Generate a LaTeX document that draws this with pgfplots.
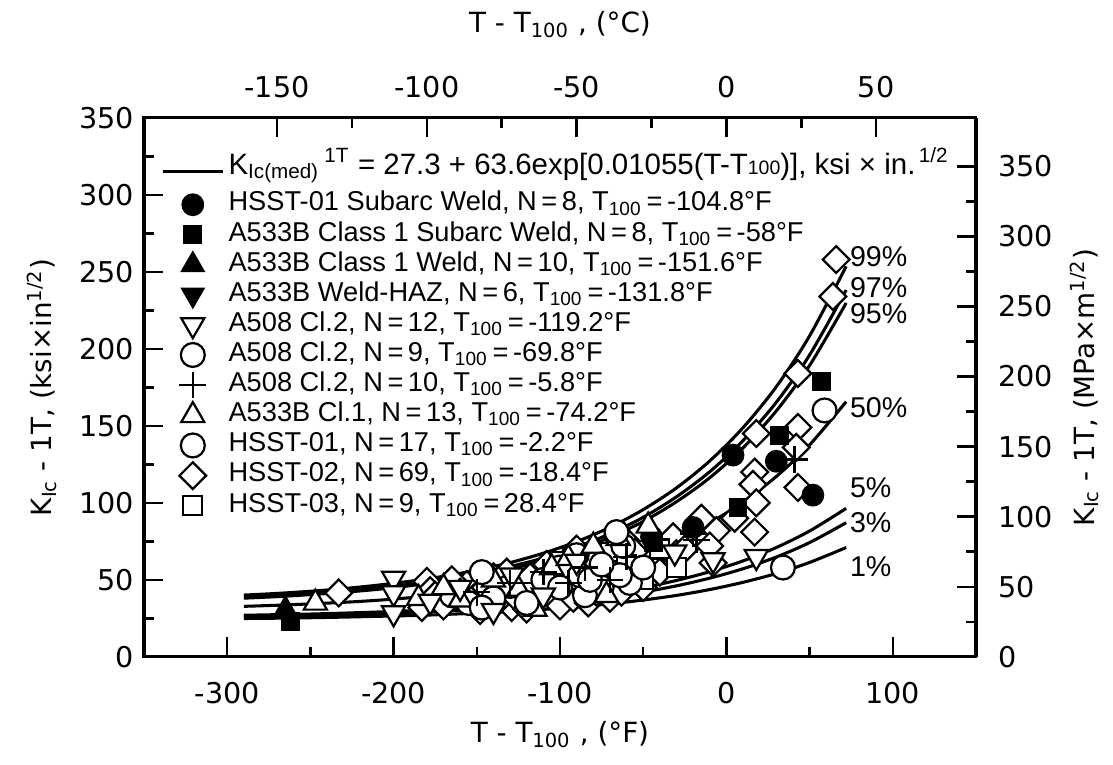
\documentclass[border=0pt]{standalone}
\usepackage{fontspec}
\setmainfont{Liberation Sans}
\newfontfamily\dvs{DejaVu Sans}
\usepackage{pgfplots}
\usepackage{pgfplotstable}
\pgfplotsset{compat=1.18}

\pgfplotstableread{
T p1 p3 p5 p50 p95 p97 p99
-290 24.9 26.2 27.0 32.8 38.1 38.8 40.1
-270 25.1 26.6 27.4 33.5 39.1 39.9 41.2
-250 25.4 27.0 27.8 34.4 40.4 41.2 42.6
-230 25.8 27.4 28.4 35.4 41.9 42.8 44.3
-210 26.3 28.0 29.1 36.7 43.8 44.8 46.5
-190 26.8 28.8 29.9 38.4 46.2 47.2 49.1
-170 27.5 29.7 31.0 40.4 49.1 50.2 52.3
-150 28.4 30.9 32.3 42.9 52.7 54.0 56.3
-130 29.5 32.3 33.9 45.9 57.1 58.6 61.2
-110 30.8 34.0 35.8 49.7 62.6 64.2 67.3
-90 32.4 36.1 38.3 54.4 69.3 71.3 74.8
-70 34.4 38.8 41.3 60.2 77.6 79.9 84.1
-50 36.9 42.1 45.0 67.3 87.9 90.6 95.6
-30 39.9 46.1 49.6 76.2 100.7 103.9 109.7
-10 43.7 51.1 55.3 87.0 116.3 120.2 127.2
10 48.4 57.2 62.3 100.5 135.7 140.4 148.8
30 54.1 64.8 71.0 117.1 159.7 165.3 175.4
50 61.3 74.2 81.7 137.6 189.2 196.0 208.4
72 71.0 87.1 96.4 165.7 229.8 238.2 253.6
}\curves

\begin{document}
\begin{tikzpicture}
\pgfplotsset{
  cur/.style={black, line width=1.1pt, smooth, no markers, forget plot},
  fcirc/.style={only marks, mark=*, mark size=3.8pt, mark options={draw=black, fill=black, line width=0.6pt}},
  fsq/.style={only marks, mark=square*, mark size=3.1pt, mark options={draw=black, fill=black, line width=0.6pt}},
  ftri/.style={only marks, mark=triangle*, mark size=4.6pt, mark options={draw=black, fill=black, line width=0.6pt}},
  fdtri/.style={only marks, mark=triangle*, mark size=4.6pt, mark options={rotate=180, draw=black, fill=black, line width=0.6pt}},
  odtri/.style={only marks, mark=triangle*, mark size=4.8pt, mark options={rotate=180, draw=black, fill=white, line width=0.8pt}},
  ocirc/.style={only marks, mark=*, mark size=4.3pt, mark options={draw=black, fill=white, line width=0.8pt}},
  pls/.style={only marks, mark=+, mark size=4.8pt, mark options={draw=black, line width=0.9pt}},
  otri/.style={only marks, mark=triangle*, mark size=4.8pt, mark options={draw=black, fill=white, line width=0.8pt}},
  odia/.style={only marks, mark=square*, mark size=3.4pt, mark options={rotate=45, draw=black, fill=white, line width=0.8pt}},
  osq/.style={only marks, mark=square*, mark size=3.4pt, mark options={draw=black, fill=white, line width=0.8pt}},
}
\begin{axis}[name=main, scale only axis, width=299.3pt, height=193.9pt,
  xmin=-350, xmax=150, ymin=0, ymax=350,
  xtick={-300,-200,...,100}, ytick={0,50,...,350},
  minor x tick num=1, minor y tick num=1,
  xtick pos=left, ytick pos=left,
  tick align=inside, major tick length=7pt, minor tick length=3.5pt,
  axis line style={line width=1.1pt},
  every tick/.append style={line width=0.9pt, black},
  ticklabel style={font=\dvs\fontsize{10.3}{12}\selectfont},
  /pgf/number format/assume math mode=true,
  xticklabel style={yshift=-5.5pt},
  xlabel={T - T\textsubscript{100} , (°F)},
  ylabel={K\textsubscript{Ic} - 1T, (ksi×in\textsuperscript{1/2})},
  every axis x label/.style={at={(axis description cs:0.5,0)}, anchor=center, yshift=-28pt, font=\dvs\fontsize{10}{12}\selectfont},
  every axis y label/.style={at={(axis description cs:0,0.5)}, anchor=center, xshift=-36.7pt, rotate=90, font=\dvs\fontsize{10}{12}\selectfont},
  legend image code/.code={\draw[mark repeat=2,mark phase=2,#1] plot coordinates {(0cm,0cm) (0.38cm,0cm) (0.76cm,0cm)};},
  legend cell align=left,
  legend style={at={(0,1)}, anchor=north west, xshift=6pt, yshift=-13pt, draw=none, fill=none, inner sep=0pt,
    font=\fontsize{9.8}{11}\selectfont, row sep=1.3pt,
    nodes={inner xsep=1.5pt, inner ysep=0pt, text height=7pt, text depth=2.5pt}},
]
% legend
\addlegendimage{black, line width=1.1pt}
\addlegendentry[text depth=5pt]{\fontsize{10.6}{12}\selectfont K\textsubscript{Ic(med)}\,\textsuperscript{1T}\;=\;27.3\;+\;63.6exp[0.01055(T-T{\scriptsize 100})], ksi\;×\;in.\textsuperscript{\,1/2}}
\addlegendimage{fcirc}
\addlegendentry{HSST-01 Subarc Weld, N\,=\,8, T\textsubscript{100}\,=\,-104.8°F}
\addlegendimage{fsq}
\addlegendentry{A533B Class 1 Subarc Weld, N\,=\,8, T\textsubscript{100}\,=\,-58°F}
\addlegendimage{ftri}
\addlegendentry{A533B Class 1 Weld, N\,=\,10, T\textsubscript{100}\,=\,-151.6°F}
\addlegendimage{fdtri}
\addlegendentry{A533B Weld-HAZ, N\,=\,6, T\textsubscript{100}\,=\,-131.8°F}
\addlegendimage{odtri}
\addlegendentry{A508 Cl.2, N\,=\,12, T\textsubscript{100}\,=\,-119.2°F}
\addlegendimage{ocirc}
\addlegendentry{A508 Cl.2, N\,=\,9, T\textsubscript{100}\,=\,-69.8°F}
\addlegendimage{pls}
\addlegendentry{A508 Cl.2, N\,=\,10, T\textsubscript{100}\,=\,-5.8°F}
\addlegendimage{otri}
\addlegendentry{A533B Cl.1, N\,=\,13, T\textsubscript{100}\,=\,-74.2°F}
\addlegendimage{ocirc}
\addlegendentry{HSST-01, N\,=\,17, T\textsubscript{100}\,=\,-2.2°F}
\addlegendimage{odia}
\addlegendentry{HSST-02, N\,=\,69, T\textsubscript{100}\,=\,-18.4°F}
\addlegendimage{osq}
\addlegendentry{HSST-03, N\,=\,9, T\textsubscript{100}\,=\,28.4°F}

% curves
\addplot[cur] table[x=T,y=p99] {\curves};
\addplot[cur] table[x=T,y=p97] {\curves};
\addplot[cur] table[x=T,y=p95] {\curves};
\addplot[cur] table[x=T,y=p50] {\curves};
\addplot[cur] table[x=T,y=p5] {\curves};
\addplot[cur] table[x=T,y=p3] {\curves};
\addplot[cur] table[x=T,y=p1] {\curves};

% filled series in the cluster (drawn first, partly covered)
\addplot[fdtri, forget plot] coordinates {
(-130,38) (-115,49) (-100,36) (-88,60) (-80,46) (-66,52)
};
\addplot[ftri, forget plot] coordinates {
(-265,31) (-150,34) (-140,42) (-128,33) (-118,46) (-108,38) (-98,50) (-88,42) (-72,44) (-60,55)
};
\addplot[fsq, forget plot] coordinates {
(-75,66) (-110,48) (-140,40)
};
\addplot[fcirc, forget plot] coordinates {
(-45,78) (-70,63) (-95,55) (-125,45)
};

% HSST-02 diamonds
\addplot[odia, forget plot] coordinates {
(66,258) (64,234) (43,184) (18,145) (43,149) (42,136) (17,120) (16,112) (18,100) (43,110)
(17,81) (-6,82) (-32,78) (-30,67) (-8,61) (-54,52) (-102,56) (-233,41.5) (-180,49) (-178,43)
(-183,32) (-156,47) (-129,32) (-10,72) (5,90)
(-175,40) (-170,33) (-165,50) (-160,42) (-152,38) (-148,30) (-145,45) (-140,52) (-138,35) (-135,42)
(-132,55) (-127,39) (-124,48) (-120,31) (-118,52) (-115,36) (-112,44) (-108,60) (-105,40) (-100,33)
(-98,48) (-95,56) (-92,38) (-90,70) (-87,45) (-85,52) (-83,35) (-80,60) (-78,42) (-76,50)
(-74,65) (-72,55) (-70,38) (-68,47) (-65,60) (-63,42) (-60,75) (-58,55) (-55,68) (-50,45)
(-45,62) (-40,55) (-25,70) (-15,90)
};
% HSST-03 squares
\addplot[osq, forget plot] coordinates {
(-80,55) (-70,68) (-60,60) (-50,50) (-40,70) (-30,58) (-120,42) (-100,62) (-90,50)
};
% HSST-01 circles
\addplot[ocirc, forget plot] coordinates {
(59,160) (34,58) (-66,79) (-62,72) (-70,55) (-58,48) (-80,62) (-90,66) (-100,58) (-110,50)
(-130,46) (-140,38) (-155,35) (-165,40) (-75,45) (-85,40) (-50,58)
};
% A533B Cl.1 open triangles
\addplot[otri, forget plot] coordinates {
(-247,35) (-47,85) (-185,38) (-170,45) (-160,37) (-140,50) (-125,44) (-105,58) (-95,64) (-80,72)
(-65,77) (-72,40) (-115,31)
};
% A508 Cl.2 N=9 circles
\addplot[ocirc, forget plot] coordinates {
(-147,55) (-147,32) (-88,53) (-66,81) (-64,53) (-82,50) (-120,35) (-100,45) (-75,60)
};
% A508 Cl.2 N=12 down triangles
\addplot[odtri, forget plot] coordinates {
(-200,51) (-200,41.5) (-200,28.5) (-178,36) (-160,45) (-129,53) (-110,40) (-31,68) (-8,63) (18,65)
(-90,62) (-140,30)
};
% A508 Cl.2 N=10 plus
\addplot[pls, forget plot] coordinates {
(-18,76) (41,128) (-20,80) (-110,55) (-95,48) (-130,48) (-85,58) (-70,50) (-60,65) (-150,42)
};
% filled points standing clear of the cluster
\addplot[fsq, forget plot] coordinates {
(57,179) (32,144) (7,97) (-44,74) (-262,23)
};
\addplot[fcirc, forget plot] coordinates {
(4,131) (30,127) (52,105) (-20,84)
};

\begin{scope}[every node/.style={anchor=west, inner sep=0pt, font=\fontsize{10.3}{12}\selectfont}]
\node at (axis cs:74,259.7) {99\%};
\node at (axis cs:74,240) {97\%};
\node at (axis cs:74,223) {95\%};
\node at (axis cs:74,162) {50\%};
\node at (axis cs:74,110) {5\%};
\node at (axis cs:74,87) {3\%};
\node at (axis cs:74,58.4) {1\%};
\end{scope}
\end{axis}

\begin{axis}[scale only axis, width=299.3pt, height=193.9pt,
  xmin=-194.444, xmax=83.333, ymin=0, ymax=384.58,
  axis x line*=top, axis y line*=right,
  xtick={-150,-100,...,50}, ytick={0,50,...,350},
  minor x tick num=1, minor y tick num=1,
  tick align=inside, major tick length=7pt, minor tick length=3.5pt,
  axis line style={line width=1.1pt},
  every tick/.append style={line width=0.9pt, black},
  ticklabel style={font=\dvs\fontsize{10.3}{12}\selectfont},
  /pgf/number format/assume math mode=true,
  xticklabel style={yshift=3.5pt}, yticklabel style={xshift=4.5pt},
  xlabel={T - T\textsubscript{100} , (°C)},
  ylabel={K\textsubscript{Ic} - 1T, (MPa×m\textsuperscript{1/2})},
  every axis x label/.style={at={(axis description cs:0.5,1)}, anchor=center, yshift=33.5pt, font=\dvs\fontsize{10}{12}\selectfont},
  every axis y label/.style={at={(axis description cs:1,0.5)}, anchor=center, xshift=39pt, rotate=90, font=\dvs\fontsize{10}{12}\selectfont},
]
\end{axis}

\path ([xshift=-51.8pt,yshift=-38.8pt]main.south west) rectangle ([xshift=49.3pt,yshift=42.4pt]main.north east);
\end{tikzpicture}
\end{document}
